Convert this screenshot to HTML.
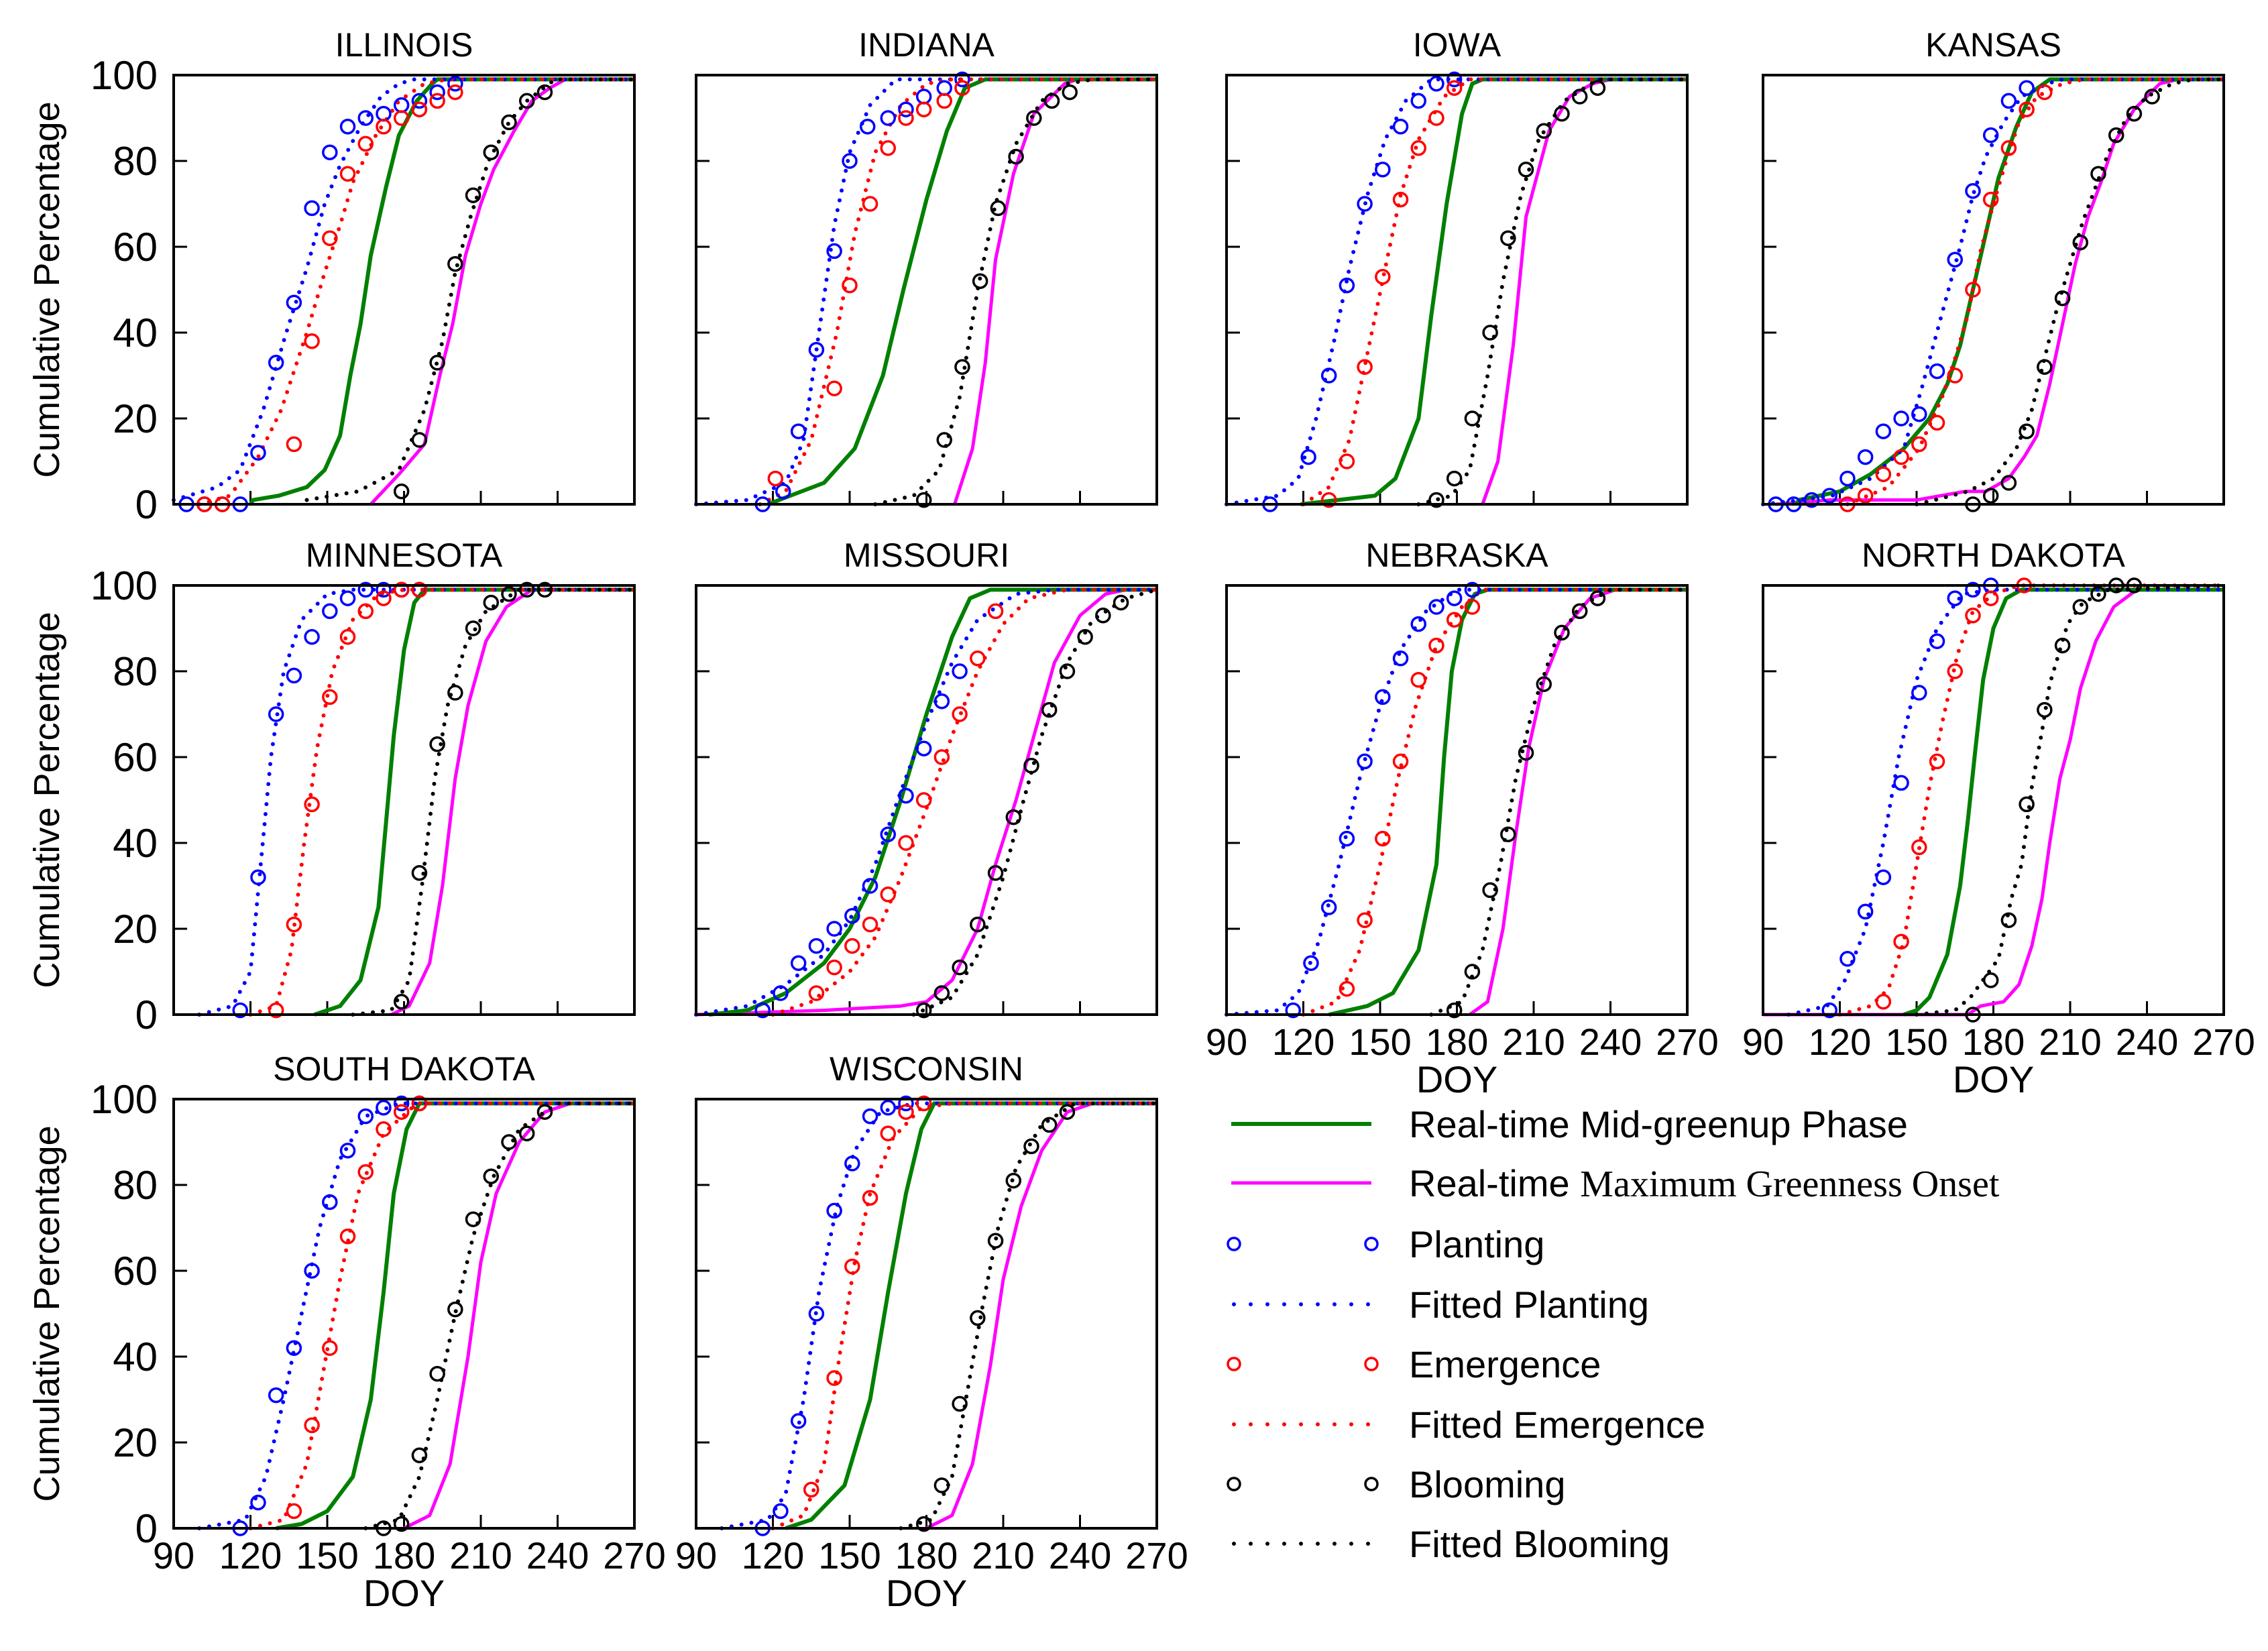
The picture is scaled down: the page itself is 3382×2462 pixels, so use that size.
<!DOCTYPE html>
<html><head><meta charset="utf-8">
<style>
html,body{margin:0;padding:0;background:#fff;}
svg{display:block;}
text{font-family:"Liberation Sans",sans-serif;fill:#000;}
</style></head>
<body>
<svg id="chart" width="3382" height="2462" viewBox="0 0 3382 2462" xmlns="http://www.w3.org/2000/svg"></svg>
<script>
const stateNames = ["ILLINOIS","INDIANA","IOWA","KANSAS","MINNESOTA","MISSOURI","NEBRASKA","NORTH DAKOTA","SOUTH DAKOTA","WISCONSIN"];
const xTicks = [90,120,150,180,210,240,270];
const yTicks = [0,20,40,60,80,100];

const plantingObs = [
 [[95,0],[102,0],[109,0],[116,0],[123,12],[130,33],[137,47],[144,69],[151,82],[158,88],[165,90],[172,91],[179,93],[186,94],[193,96],[200,98]],
 [[116,0],[124,3],[130,17],[137,36],[144,59],[150,80],[157,88],[165,90],[172,92],[179,95],[187,97],[194,99]],
 [[107,0],[122,11],[130,30],[137,51],[144,70],[151,78],[158,88],[165,94],[172,98],[179,99]],
 [[95,0],[102,0],[109,1],[116,2],[123,6],[130,11],[137,17],[144,20],[151,21],[158,31],[165,57],[172,73],[179,86],[186,94],[193,97]],
 [[116,1],[123,32],[130,70],[137,79],[144,88],[151,94],[158,97],[165,99],[172,99],[179,99],[186,99]],
 [[116,1],[123,5],[130,12],[137,16],[144,20],[151,23],[158,30],[165,42],[172,51],[179,62],[186,73],[193,80]],
 [[116,1],[123,12],[130,25],[137,41],[144,59],[151,74],[158,83],[165,91],[172,95],[179,97],[186,99]],
 [[116,1],[123,13],[130,24],[137,32],[144,54],[151,75],[158,87],[165,97],[172,99],[179,100]],
 [[116,0],[123,6],[130,31],[137,42],[144,60],[151,76],[158,88],[165,96],[172,98],[179,99],[186,99]],
 [[116,0],[123,4],[130,25],[137,50],[144,74],[151,85],[158,96],[165,98],[172,99]]
];
const emergenceObs = [
 [[102,0],[109,0],[137,14],[144,38],[151,62],[158,77],[165,84],[172,88],[179,90],[186,92],[193,94],[200,96]],
 [[121,6],[144,27],[150,51],[158,70],[165,83],[172,90],[179,92],[187,94],[194,97]],
 [[130,1],[137,10],[144,32],[151,53],[158,71],[165,83],[172,90],[179,97]],
 [[123,0],[130,2],[137,7],[144,11],[151,14],[158,19],[165,30],[172,50],[179,71],[186,83],[193,92],[200,96]],
 [[130,1],[137,21],[144,49],[151,74],[158,88],[165,94],[172,97],[179,99],[186,99]],
 [[137,5],[144,11],[151,16],[158,21],[165,28],[172,40],[179,50],[186,60],[193,70],[200,83],[207,94]],
 [[137,6],[144,22],[151,41],[158,59],[165,78],[172,86],[179,92],[186,95]],
 [[137,3],[144,17],[151,39],[158,59],[165,80],[172,93],[179,97],[192,100]],
 [[137,4],[144,24],[151,42],[158,68],[165,83],[172,93],[179,97],[186,99]],
 [[135,9],[144,35],[151,61],[158,77],[165,92],[172,97],[179,99]]
];
const bloomingObs = [
 [[179,3],[186,15],[193,33],[200,56],[207,72],[214,82],[221,89],[228,94],[235,96]],
 [[179,1],[187,15],[194,32],[201,52],[208,69],[215,81],[222,90],[229,94],[236,96]],
 [[172,1],[179,6],[186,20],[193,40],[200,62],[207,78],[214,87],[221,91],[228,95],[235,97]],
 [[172,0],[179,2],[186,5],[193,17],[200,32],[207,48],[214,61],[221,77],[228,86],[235,91],[242,95]],
 [[179,3],[186,33],[193,63],[200,75],[207,90],[214,96],[221,98],[228,99],[235,99]],
 [[179,1],[186,5],[193,11],[200,21],[207,33],[214,46],[221,58],[228,71],[235,80],[242,88],[249,93],[256,96]],
 [[179,1],[186,10],[193,29],[200,42],[207,61],[214,77],[221,89],[228,94],[235,97]],
 [[172,0],[179,8],[186,22],[193,49],[200,71],[207,86],[214,95],[221,98],[228,100],[235,100]],
 [[172,0],[179,1],[186,17],[193,36],[200,51],[207,72],[214,82],[221,90],[228,92],[235,97]],
 [[179,1],[186,10],[193,29],[200,49],[207,67],[214,81],[221,89],[228,94],[235,97]]
];
const fittedPlanting = [
 [[90,1],[107,4],[116,8],[125,22],[134,40],[142,55],[149,70],[155,79],[163,88],[171,95],[178,98],[184,99],[270,99]],
 [[90,0],[110,1],[125,5],[132,15],[138,40],[144,65],[150,82],[158,93],[168,99],[270,99]],
 [[90,0],[110,2],[118,6],[125,20],[132,38],[138,55],[145,72],[152,85],[160,94],[170,99],[270,99]],
 [[90,0],[105,1],[117,2],[132,6],[145,13],[152,27],[157,38],[162,49],[167,60],[172,72],[177,81],[184,89],[191,95],[201,98],[207,99],[270,99]],
 [[100,0],[113,2],[120,10],[124,35],[128,60],[133,80],[140,92],[150,98],[160,99],[270,99]],
 [[90,0],[110,2],[125,7],[140,14],[150,22],[160,35],[170,52],[180,68],[190,82],[200,92],[215,98],[230,99],[270,99]],
 [[90,0],[110,1],[118,5],[126,17],[134,35],[142,55],[150,72],[158,85],[168,94],[180,99],[270,99]],
 [[100,0],[115,2],[122,8],[130,20],[137,40],[143,60],[150,78],[158,90],[168,98],[180,99],[270,99]],
 [[100,0],[118,2],[126,12],[133,30],[140,50],[147,70],[155,86],[165,96],[178,99],[270,99]],
 [[100,0],[118,2],[125,8],[132,30],[138,55],[145,75],[152,88],[162,97],[175,99],[270,99]]
];
const fittedEmergence = [
 [[100,0],[112,2],[123,11],[132,22],[142,40],[149,54],[155,65],[160,75],[169,86],[178,94],[188,98],[197,99],[270,99]],
 [[115,0],[125,3],[135,15],[145,40],[152,63],[160,82],[170,93],[180,98],[190,99],[270,99]],
 [[120,0],[130,4],[138,15],[145,35],[152,55],[158,72],[165,85],[175,95],[185,99],[270,99]],
 [[123,0],[139,4],[151,13],[160,25],[165,34],[170,44],[175,59],[180,70],[185,80],[190,89],[197,95],[207,98],[215,99],[270,99]],
 [[120,0],[130,2],[136,15],[141,40],[146,62],[152,80],[160,92],[170,98],[180,99],[270,99]],
 [[120,0],[135,3],[150,10],[160,18],[170,32],[180,48],[190,65],[200,80],[210,91],[220,97],[235,99],[270,99]],
 [[120,0],[133,3],[142,15],[150,35],[157,55],[164,72],[172,86],[182,95],[190,99],[270,99]],
 [[120,0],[132,2],[139,6],[145,17],[150,35],[155,53],[160,68],[166,84],[172,94],[180,98],[190,100],[270,100]],
 [[120,0],[133,2],[142,15],[148,35],[155,58],[162,78],[172,92],[185,99],[270,99]],
 [[120,0],[132,3],[140,15],[146,40],[152,62],[158,78],[167,91],[178,98],[190,99],[270,99]]
];
const fittedBlooming = [
 [[142,1],[162,3],[178,8],[188,22],[195,38],[200,54],[206,67],[213,80],[221,89],[228,94],[239,99],[270,99]],
 [[160,0],[175,2],[185,8],[193,25],[200,50],[207,70],[215,84],[225,94],[235,98],[245,99],[270,99]],
 [[165,0],[178,2],[185,8],[192,30],[198,52],[205,72],[212,85],[222,94],[235,99],[270,99]],
 [[150,0],[157,1],[170,3],[180,6],[189,13],[195,22],[200,34],[205,46],[210,56],[215,66],[220,74],[225,82],[232,90],[240,95],[250,98],[258,99],[270,99]],
 [[160,0],[175,1],[182,8],[187,30],[192,55],[197,72],[204,86],[212,94],[225,99],[270,99]],
 [[175,0],[190,4],[200,14],[210,32],[218,50],[225,65],[235,82],[245,92],[258,97],[270,99]],
 [[170,0],[182,3],[190,15],[197,35],[203,55],[210,72],[218,86],[228,95],[240,99],[270,99]],
 [[150,0],[165,1],[171,4],[182,13],[187,27],[191,35],[195,53],[199,66],[202,77],[209,91],[215,96],[225,99],[270,100]],
 [[165,0],[178,2],[186,12],[193,30],[200,50],[207,68],[215,82],[225,93],[240,99],[270,99]],
 [[170,0],[182,2],[190,12],[196,32],[202,52],[208,70],[215,84],[225,94],[238,99],[270,99]]
];
const midGreenup = [
 [[120,0],[121,1],[131,2],[142,4],[149,8],[155,16],[159,30],[163,42],[167,58],[173,74],[178,86],[185,94],[191,98],[193,99],[270,99]],
 [[118,0],[140,5],[152,13],[163,30],[171,50],[180,71],[188,87],[195,97],[203,99],[270,99]],
 [[119,0],[148,2],[156,6],[165,20],[170,44],[176,70],[182,91],[186,98],[190,99],[270,99]],
 [[103,0],[104,1],[120,3],[132,7],[145,13],[155,20],[162,28],[167,37],[172,50],[177,63],[182,76],[189,88],[195,96],[202,99],[270,99]],
 [[145,0],[155,2],[163,8],[170,25],[173,45],[176,65],[180,85],[184,96],[188,99],[270,99]],
 [[95,0],[110,1],[125,5],[140,12],[150,20],[160,32],[170,50],[180,70],[190,88],[197,97],[205,99],[270,99]],
 [[130,0],[145,2],[155,5],[165,15],[172,35],[175,60],[178,80],[182,92],[187,98],[192,99],[270,99]],
 [[145,0],[150,1],[155,4],[162,14],[167,30],[170,45],[173,62],[176,78],[180,90],[185,97],[191,99],[270,99]],
 [[130,0],[140,1],[150,4],[160,12],[167,30],[172,55],[176,78],[181,93],[186,99],[270,99]],
 [[125,0],[135,2],[148,10],[158,30],[165,55],[172,78],[178,93],[183,99],[270,99]]
];
const maxGreenness = [
 [[167,0],[178,7],[188,14],[194,30],[199,42],[204,58],[210,70],[215,78],[223,87],[230,94],[237,97],[243,99],[270,99]],
 [[191,0],[198,13],[203,33],[207,57],[214,77],[222,91],[234,98],[239,99],[270,99]],
 [[190,0],[196,10],[202,37],[207,67],[216,87],[224,95],[233,98],[240,99],[270,99]],
 [[95,0],[116,1],[150,1],[169,3],[177,3],[186,6],[192,11],[197,16],[202,28],[207,42],[212,56],[217,67],[222,75],[227,84],[235,92],[245,98],[252,99],[270,99]],
 [[175,0],[182,2],[190,12],[195,30],[200,55],[205,72],[212,87],[220,95],[230,99],[270,99]],
 [[90,0],[140,1],[170,2],[180,3],[190,8],[200,20],[207,35],[215,50],[222,65],[230,82],[240,93],[250,98],[258,99],[270,99]],
 [[185,0],[192,3],[198,20],[203,42],[208,62],[214,78],[222,90],[232,97],[242,99],[270,99]],
 [[90,0],[170,0],[175,2],[184,3],[190,7],[195,16],[199,27],[202,40],[206,55],[210,64],[214,76],[220,87],[227,95],[236,99],[270,99]],
 [[180,0],[190,3],[198,15],[205,40],[210,62],[216,78],[225,90],[235,97],[245,99],[270,99]],
 [[180,0],[190,3],[198,15],[205,38],[210,58],[217,75],[225,88],[235,97],[245,99],[270,99]]
];

const NS = "http://www.w3.org/2000/svg";
const svg = document.getElementById("chart");
const colLeft = [259,1038,1829,2629];
const rowTop = [112,873,1639];
const PW = 687, PH = 640;
const COL = {green:"#008000", magenta:"#ff00ff", blue:"#0000ff", red:"#ff0000", black:"#000"};

function mk(tag, attrs, parent){
  const e = document.createElementNS(NS, tag);
  for (const k in attrs) e.setAttribute(k, attrs[k]);
  (parent||svg).appendChild(e);
  return e;
}
function slug(s){return s.toLowerCase().replace(/ /g,'-');}

stateNames.forEach((name, i) => {
  const r = Math.floor(i/4), c = i%4;
  const L = colLeft[c], T = rowTop[r];
  const sx = d => L + (d-90)/180*PW;
  const sy = p => T + PH*(1 - p/100);
  const g = mk("g", {});
  
  

  const title = mk("text", {x:L+PW/2, y:T-28, "text-anchor":"middle", "font-size":50}, g);
  title.textContent = name;
  
  

  yTicks.slice(1,-1).forEach(v => {
    const t = mk("line", {x1:L, x2:L+20, y1:sy(v), y2:sy(v), stroke:"#000","stroke-width":3}, g);
    
    
  });
  xTicks.slice(1,-1).forEach(v => {
    const t = mk("line", {x1:sx(v), x2:sx(v), y1:T+PH, y2:T+PH-20, stroke:"#000","stroke-width":3}, g);
    
    
  });

  const path = pts => pts.map((p,k)=>(k?"L":"M")+sx(p[0]).toFixed(1)+","+sy(p[1]).toFixed(1)).join(" ");

  const lines = [
    [fittedPlanting[i], COL.blue, "fitted-planting-line"],
    [fittedEmergence[i], COL.red, "fitted-emergence-line"],
    [fittedBlooming[i], COL.black, "fitted-blooming-line"]
  ];
  const ml = mk("path", {d:path(maxGreenness[i]), fill:"none", stroke:COL.magenta, "stroke-width":5, "stroke-linejoin":"round"}, g);
  
  
  const gl = mk("path", {d:path(midGreenup[i]), fill:"none", stroke:COL.green, "stroke-width":6, "stroke-linejoin":"round"}, g);
  
  
  lines.forEach(([pts,col,nm]) => {
    const e = mk("path", {d:path(pts), fill:"none", stroke:col, "stroke-width":6, "stroke-linecap":"round", "stroke-dasharray":"0 15"}, g);
    
    
  });
  [[plantingObs[i], COL.blue, "planting-point"],[emergenceObs[i], COL.red, "emergence-point"],[bloomingObs[i], COL.black, "blooming-point"]].forEach(([pts,col,nm]) => {
    pts.forEach(p => {
      const e = mk("circle", {cx:sx(p[0]), cy:sy(p[1]), r:10, fill:"none", stroke:col, "stroke-width":3.5}, g);
      
      
    });
  });

  const frame = mk("rect", {x:L, y:T, width:PW, height:PH, fill:"none", stroke:"#000", "stroke-width":4}, g);
  
  

  if (c === 0) {
    yTicks.forEach(v => {
      const t = mk("text", {x:L-24, y:sy(v)+21, "text-anchor":"end", "font-size":60, "font-family":"DejaVu Sans, sans-serif"}, g);
      t.textContent = v;
      
      
    });
    const yl = mk("text", {x:0, y:0, "text-anchor":"middle", "font-size":54, "font-family":"DejaVu Sans, sans-serif", transform:`translate(88,${T+PH/2}) rotate(-90)`}, g);
    yl.textContent = "Cumulative Percentage";
    
    
  }
  if (r === 2 || (r === 1 && c >= 2)) {
    xTicks.forEach(v => {
      const t = mk("text", {x:sx(v), y:T+PH+60, "text-anchor":"middle", "font-size":56}, g);
      t.textContent = v;
      
      
    });
    const xl = mk("text", {x:L+PW/2, y:T+PH+116, "text-anchor":"middle", "font-size":56}, g);
    xl.textContent = "DOY";
    
    
  }
});

const lg = mk("g", {});


const legendRows = [
  ["line", COL.green, "Real-time Mid-greenup Phase", 6],
  ["line", COL.magenta, "Real-time ", 5],
  ["mark", COL.blue, "Planting"],
  ["dots", COL.blue, "Fitted Planting"],
  ["mark", COL.red, "Emergence"],
  ["dots", COL.red, "Fitted Emergence"],
  ["mark", COL.black, "Blooming"],
  ["dots", COL.black, "Fitted Blooming"]
];
const legendY = [1676,1764,1855,1945,2034,2124,2213,2302];
legendRows.forEach((row, k) => {
  const y = legendY[k];
  const e = mk("g", {}, lg);
  
  
  if (row[0]==="line") mk("line", {x1:1836, x2:2045, y1:y, y2:y, stroke:row[1], "stroke-width":row[3]}, e);
  if (row[0]==="dots") mk("line", {x1:1840, x2:2045, y1:y, y2:y, stroke:row[1], "stroke-width":6, "stroke-linecap":"round", "stroke-dasharray":"0 25"}, e);
  if (row[0]==="mark") { mk("circle",{cx:1840,cy:y,r:9,fill:"none",stroke:row[1],"stroke-width":3.5},e); mk("circle",{cx:2045,cy:y,r:9,fill:"none",stroke:row[1],"stroke-width":3.5},e); }
  const t = mk("text", {x:2101, y:y+20, "font-size":56}, e);
  t.textContent = row[2];
  if (k===1) {
    const s = mk("tspan", {"font-family":"Liberation Serif, serif"}, t);
    s.textContent = "Maximum Greenness Onset";
  }
});
</script>
</body></html>
